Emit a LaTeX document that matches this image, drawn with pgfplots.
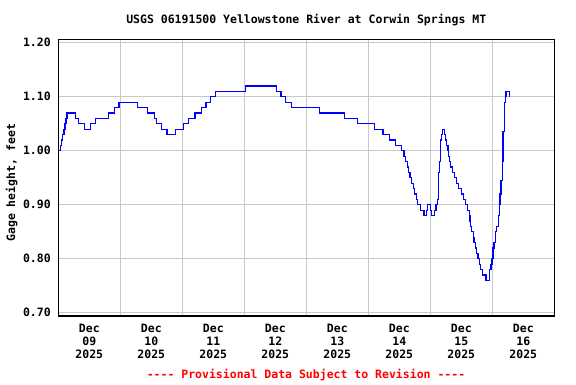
\documentclass[border=0pt]{standalone}
\usepackage{pgfplots}
\pgfplotsset{compat=1.18}
\usepackage{fontspec}
\setmainfont{DejaVu Sans Mono}
\definecolor{gridgray}{RGB}{200,200,200}
\definecolor{lineblue}{RGB}{0,0,255}
\definecolor{notered}{RGB}{255,0,0}
\newcommand\lbl{\fontsize{11.5}{13}\selectfont\bfseries}
\begin{document}
\begin{tikzpicture}
\useasboundingbox (0,0) rectangle (576pt,384pt);
\begin{axis}[
  at={(58.3pt,68pt)}, anchor=south west,
  width=496pt, height=276.5pt, scale only axis,
  xmin=0, xmax=8, ymin=0.694, ymax=1.2061,
  axis line style={line width=1.3pt, black},
  xtick={0.5,1.5,2.5,3.5,4.5,5.5,6.5,7.5},
  xticklabels={{Dec\\09\\2025},{Dec\\10\\2025},{Dec\\11\\2025},{Dec\\12\\2025},{Dec\\13\\2025},{Dec\\14\\2025},{Dec\\15\\2025},{Dec\\16\\2025}},
  minor xtick={1,2,3,4,5,6,7},
  ytick={0.7,0.8,0.9,1.0,1.1,1.2},
  yticklabels={0.70,0.80,0.90,1.00,1.10,1.20},
  major tick length=0pt, minor tick length=0pt,
  xmajorgrids=false, xminorgrids=true, ymajorgrids=true,
  grid style={line width=0.9pt, gridgray},
  minor grid style={line width=0.9pt, gridgray},
  xticklabel style={font=\lbl, align=center, anchor=north, yshift=-5pt},
  yticklabel style={font=\lbl, xshift=-4pt},
]
\addplot[const plot, lineblue, line width=1.1pt, mark=none] coordinates {
(0.000,1.00) (0.038,1.01) (0.054,1.02) (0.070,1.03) (0.092,1.04) (0.108,1.05)
(0.124,1.06) (0.140,1.07) (0.280,1.06) (0.329,1.05) (0.420,1.04) (0.517,1.05)
(0.603,1.06) (0.812,1.07) (0.909,1.08) (0.979,1.09) (1.280,1.08) (1.441,1.07)
(1.549,1.06) (1.587,1.05) (1.667,1.04) (1.753,1.03) (1.893,1.04) (2.017,1.05)
(2.103,1.06) (2.205,1.07) (2.307,1.08) (2.382,1.09) (2.452,1.10) (2.533,1.11)
(3.022,1.12) (3.517,1.11) (3.592,1.10) (3.662,1.09) (3.764,1.08) (4.216,1.07)
(4.619,1.06) (4.829,1.05) (5.103,1.04) (5.237,1.03) (5.339,1.02) (5.441,1.01)
(5.538,1.00) (5.576,0.99) (5.600,0.98) (5.625,0.97) (5.649,0.96) (5.673,0.95)
(5.698,0.94) (5.722,0.93) (5.746,0.92) (5.771,0.91) (5.795,0.90) (5.848,0.89)
(5.898,0.88) (5.941,0.89) (5.960,0.90) (6.006,0.89) (6.022,0.88) (6.070,0.89)
(6.092,0.90) (6.113,0.91) (6.130,0.96) (6.146,0.98) (6.167,1.02) (6.183,1.03)
(6.199,1.04) (6.232,1.03) (6.250,1.02) (6.268,1.01) (6.285,1.00) (6.300,0.99)
(6.315,0.98) (6.333,0.97) (6.360,0.96) (6.385,0.95) (6.420,0.94) (6.460,0.93)
(6.500,0.92) (6.540,0.91) (6.570,0.90) (6.600,0.89) (6.625,0.88) (6.640,0.87)
(6.655,0.86) (6.668,0.85) (6.690,0.84) (6.705,0.83) (6.726,0.82) (6.748,0.81)
(6.769,0.80) (6.790,0.79) (6.815,0.78) (6.845,0.77) (6.898,0.76) (6.960,0.78)
(6.979,0.79) (6.995,0.80) (7.012,0.82) (7.028,0.83) (7.050,0.85) (7.068,0.86)
(7.095,0.88) (7.113,0.90) (7.124,0.92) (7.140,0.945) (7.158,0.98) (7.172,1.035)
(7.190,1.06) (7.203,1.09) (7.212,1.10) (7.221,1.11) (7.274,1.10) (7.290,1.10)
};
\end{axis}
\node[font=\lbl, anchor=center] at (306.3pt,364pt) {USGS 06191500 Yellowstone River at Corwin Springs MT};
\node[font=\lbl, anchor=center, rotate=90] at (11.7pt,201.2pt) {Gage height, feet};
\node[font=\lbl, anchor=center, text=notered] at (306pt,9pt) {-{}-{}-{}- Provisional Data Subject to Revision -{}-{}-{}-};
\end{tikzpicture}
\end{document}
